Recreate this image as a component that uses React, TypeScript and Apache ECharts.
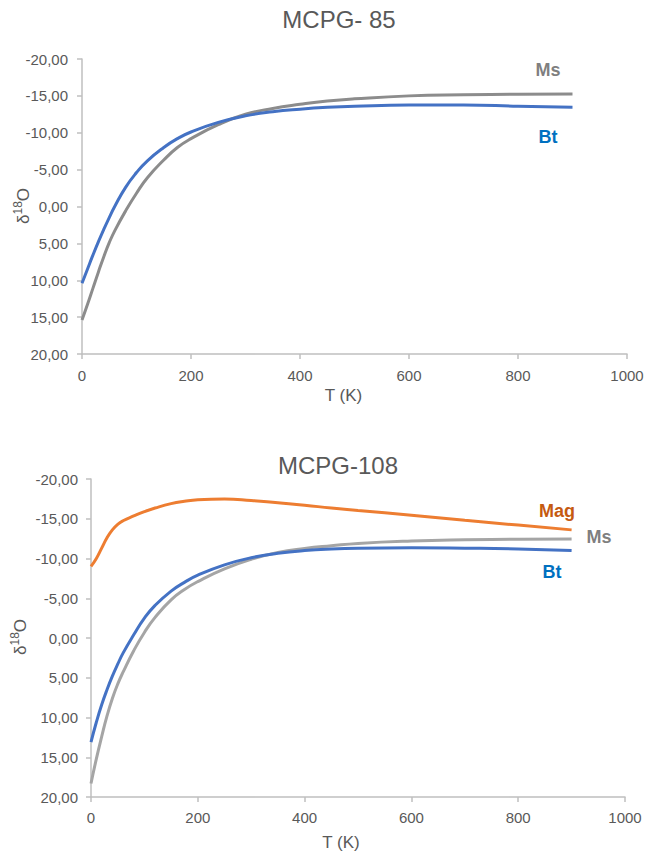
import React, { useEffect, useRef } from "react";
import * as echarts from "echarts";

const T = [0, 10, 20, 30, 40, 50, 60, 80, 100, 120, 150, 175, 200, 250, 300, 350, 400, 450, 500, 600, 700, 800, 900];

// Panel 1: MCPG- 85
const bt1 = [10.4, 8.5, 6.6, 4.8, 3.1, 1.5, 0.0, -2.6, -4.6, -6.2, -8.0, -9.2, -10.1, -11.4, -12.3, -12.85, -13.2, -13.45, -13.6, -13.75, -13.75, -13.6, -13.45];
const ms1 = [15.4, 13.3, 11.1, 8.9, 6.8, 4.9, 3.3, 0.6, -1.8, -3.9, -6.3, -8.0, -9.2, -11.1, -12.5, -13.3, -13.85, -14.3, -14.6, -15.0, -15.15, -15.22, -15.25];

// Panel 2: MCPG-108
const bt2 = [13.1, 10.6, 8.4, 6.5, 4.8, 3.3, 1.9, -0.4, -2.5, -4.1, -5.9, -7.0, -7.9, -9.2, -10.1, -10.65, -11.0, -11.2, -11.3, -11.35, -11.3, -11.2, -11.0];
const ms2 = [18.3, 15.2, 12.4, 9.8, 7.6, 5.8, 4.3, 1.6, -0.7, -2.6, -4.8, -6.1, -7.1, -8.7, -9.9, -10.75, -11.25, -11.6, -11.9, -12.2, -12.35, -12.42, -12.44];
const mag2 = [-9.0, -10.0, -11.3, -12.6, -13.6, -14.3, -14.75, -15.35, -15.9, -16.35, -16.9, -17.2, -17.4, -17.5, -17.3, -17.0, -16.7, -16.35, -16.05, -15.45, -14.8, -14.2, -13.6];

const titles = ["MCPG- 85", "MCPG-108"];
const xName = "T (K)";
const yName = "{a|δ}{s|18}{a|O}";

const pair = (ys: number[]) => T.map((t, i) => [t, ys[i]]);

export default function App() {
  const ref = useRef<HTMLDivElement>(null);
  useEffect(() => {
    document.body.style.margin = "0";
    const chart = echarts.init(ref.current!, null, { renderer: "svg" });
    const txt = "#595959";
    const axisLine = { lineStyle: { color: "#BFBFBF", width: 1.5 } };
    const fmt = (v: number) => v.toFixed(2).replace(".", ",");
    const font = "Liberation Sans, Arial, sans-serif";
    const xAxisBase = (gi: number, gap: number, margin: number, shift: number) => ({
      type: "value",
      gridIndex: gi,
      min: 0,
      max: 1000,
      interval: 200,
      name: xName,
      nameLocation: "middle",
      nameGap: gap,
      nameTextStyle: { color: txt, fontSize: 17, fontFamily: font, padding: [0, shift, 0, 0] },
      axisLine: { show: true, onZero: false, ...axisLine },
      axisTick: { show: true, length: 5, lineStyle: { color: "#BFBFBF", width: 1.5 } },
      axisLabel: { color: txt, fontSize: 15, fontFamily: font, margin, formatter: (v: number) => String(v) },
      splitLine: { show: false },
    });
    const yAxisBase = (gi: number, margin: number) => ({
      type: "value",
      gridIndex: gi,
      min: -20,
      max: 20,
      interval: 5,
      inverse: true,
      axisLine: { show: true, onZero: false, ...axisLine },
      axisTick: { show: true, length: 5, lineStyle: { color: "#BFBFBF", width: 1.5 } },
      axisLabel: { color: txt, fontSize: 15, fontFamily: font, margin, formatter: fmt },
      splitLine: { show: false },
    });
    const yTitle = (x: number, y: number) => ({
      type: "text",
      x,
      y,
      rotation: Math.PI / 2,
      style: {
        text: yName,
        fill: txt,
        align: "center",
        verticalAlign: "middle",
        rich: {
          a: { fontSize: 17, fill: txt, fontFamily: font, lineHeight: 20, verticalAlign: "bottom" },
          s: { fontSize: 12, fill: txt, fontFamily: font, lineHeight: 20, verticalAlign: "top" },
        },
      },
    });
    const line = (name: string, xi: number, data: number[][], color: string) => ({
      type: "line",
      name,
      xAxisIndex: xi,
      yAxisIndex: xi,
      data,
      smooth: 0.5,
      showSymbol: false,
      symbol: "none",
      lineStyle: { color, width: 3 },
    });
    const label = (text: string, x: number, y: number, color: string) => ({
      type: "text",
      x,
      y,
      style: { text, fill: color, font: `bold 18px ${font}`, align: "center", verticalAlign: "middle" },
    });
    chart.setOption({
      animation: false,
      grid: [
        { left: 82, top: 59, width: 545, height: 295, containLabel: false, outerBoundsMode: "none" },
        { left: 91, top: 479, width: 534, height: 318, containLabel: false, outerBoundsMode: "none" },
      ],
      xAxis: [xAxisBase(0, 33, 14, 22), xAxisBase(1, 37, 13, 34)],
      yAxis: [yAxisBase(0, 14), yAxisBase(1, 13)],
      series: [
        line("Ms", 0, pair(ms1), "#8C8C8C"),
        line("Bt", 0, pair(bt1), "#4472C4"),
        line("Mag", 1, pair(mag2), "#ED7D31"),
        line("Ms", 1, pair(ms2), "#A5A5A5"),
        line("Bt", 1, pair(bt2), "#4472C4"),
      ],
      graphic: [
        { type: "text", x: 339, y: 19, style: { text: titles[0], fill: txt, font: `24px ${font}`, align: "center", verticalAlign: "middle" } },
        { type: "text", x: 338, y: 465, style: { text: titles[1], fill: txt, font: `24px ${font}`, align: "center", verticalAlign: "middle" } },
        yTitle(22, 206),
        yTitle(19, 637),
        label("Ms", 548, 70, "#7F7F7F"),
        label("Bt", 548, 137, "#0070C0"),
        label("Mag", 557, 511, "#C55A11"),
        label("Ms", 599, 537, "#7F7F7F"),
        label("Bt", 552, 572, "#0070C0"),
      ],
    });
    return () => chart.dispose();
  }, []);
  return <div ref={ref} style={{ width: 647, height: 858 }} />;
}
